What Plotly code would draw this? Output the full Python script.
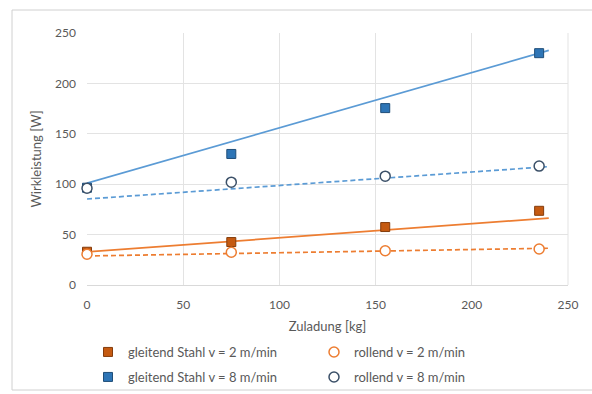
import numpy as np
import plotly.graph_objects as go

# ---- data ----
zuladung = [0, 75, 155, 235]
gleitend_2 = [33, 42.6, 57.5, 73.6]
rollend_2 = [30.5, 32.5, 34, 35.7]
gleitend_8 = [96.5, 130, 175.5, 230]
rollend_8 = [96, 102, 108, 118]

# linear trendlines (intercept, slope)
trend_names = ["gleitend_2", "rollend_2", "gleitend_8", "rollend_8"]
trend_intercept = [32.8, 28.8, 101.0, 85.3]
trend_slope = [0.140, 0.032, 0.549, 0.134]
trend_range = [0, 240]

x_ticks = [0, 50, 100, 150, 200, 250]
y_ticks = [0, 50, 100, 150, 200, 250]

ORANGE_LINE = "#ED7D31"
ORANGE_MARK = "#C55A11"
BLUE_LINE = "#5B9BD5"
BLUE_MARK = "#2E75B6"
GRID = "#E3E3E3"
TXT = "#595959"
FONT = "Lato"

fig = go.Figure()

tx = np.array(trend_range, dtype=float)
styles = {
    "gleitend_2": (ORANGE_LINE, "solid"),
    "rollend_2": (ORANGE_LINE, "5px,3px"),
    "gleitend_8": (BLUE_LINE, "solid"),
    "rollend_8": (BLUE_LINE, "5px,3px"),
}
for name, b, m in zip(trend_names, trend_intercept, trend_slope):
    col, dash = styles[name]
    fig.add_trace(go.Scatter(x=tx, y=b + m * tx, mode="lines",
                             line=dict(color=col, width=1.7, dash=dash),
                             showlegend=False, hoverinfo="skip"))

fig.add_trace(go.Scatter(x=zuladung, y=gleitend_2, mode="markers", cliponaxis=False,
                         name="gleitend Stahl v = 2 m/min", legend="legend",
                         marker=dict(symbol="square", size=9, color=ORANGE_MARK,
                                     line=dict(color="#843C0C", width=1))))
fig.add_trace(go.Scatter(x=zuladung, y=rollend_2, mode="markers", cliponaxis=False,
                         name="rollend v = 2 m/min", legend="legend",
                         marker=dict(symbol="circle", size=10, color="white",
                                     line=dict(color=ORANGE_LINE, width=1.5))))
fig.add_trace(go.Scatter(x=zuladung, y=gleitend_8, mode="markers", cliponaxis=False,
                         name="gleitend Stahl v = 8 m/min", legend="legend2",
                         marker=dict(symbol="square", size=9, color=BLUE_MARK,
                                     line=dict(color="#1F4E79", width=1))))
fig.add_trace(go.Scatter(x=zuladung, y=rollend_8, mode="markers", cliponaxis=False,
                         name="rollend v = 8 m/min", legend="legend2",
                         marker=dict(symbol="circle", size=10, color="white",
                                     line=dict(color="#3B5068", width=1.5))))

L, R, T, B = 87, 24, 33, 109
W, H = 592, 394
pw, ph = W - L - R, H - T - B

def px_x(p):
    return (p - L) / pw

def px_y(p):
    return (H - B - p) / ph

leg_common = dict(orientation="h", entrywidth=181, entrywidthmode="pixels",
                  font=dict(family=FONT, size=13, color=TXT),
                  bgcolor="rgba(0,0,0,0)", xanchor="left", yanchor="middle",
                  xref="container", yref="container",
                  itemwidth=30, traceorder="normal")

fig.update_layout(
    width=W, height=H,
    margin=dict(l=L, r=R, t=T, b=B, autoexpand=False),
    paper_bgcolor="white", plot_bgcolor="white",
    font=dict(family=FONT, color=TXT, size=12),
    legend=dict(x=88 / W, y=1 - 352 / H, **leg_common),
    legend2=dict(x=88 / W, y=1 - 377 / H, **leg_common),
    xaxis=dict(range=[0, 250], tickvals=x_ticks, showgrid=True, gridcolor=GRID,
               gridwidth=1, zeroline=False, showline=True, linecolor="#D9D9D9",
               mirror=False, ticks="", tickfont=dict(family=FONT, size=12, color=TXT),
               ticklabelstandoff=9, automargin=False,
               title=dict(text="Zuladung [kg]", font=dict(family=FONT, size=13, color=TXT),
                          standoff=10)),
    yaxis=dict(range=[0, 250], tickvals=y_ticks, showgrid=True, gridcolor=GRID,
               gridwidth=1, zeroline=False, showline=False, ticks="",
               tickfont=dict(family=FONT, size=12, color=TXT), ticklabelstandoff=10,
               automargin=False,
               title=dict(text="Wirkleistung [W]", font=dict(family=FONT, size=13, color=TXT),
                          standoff=10)),
    shapes=[
        dict(type="line", xref="paper", yref="paper", x0=1, x1=1, y0=0, y1=1,
             line=dict(color=GRID, width=1), layer="below"),
        dict(type="rect", xref="paper", yref="paper",
             x0=px_x(12), x1=px_x(600), y0=px_y(390), y1=px_y(10),
             line=dict(color="#D0D0D0", width=1), layer="below"),
    ],
)

fig.write_html("out.html")
